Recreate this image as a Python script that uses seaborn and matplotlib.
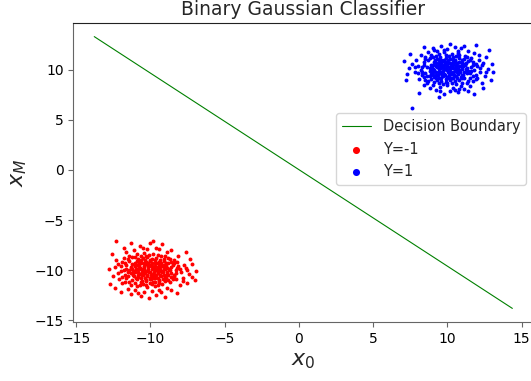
import numpy as np
import matplotlib
matplotlib.use("Agg")
import matplotlib.pyplot as plt
import seaborn as sns

# decision boundary end points
boundary_x = [-13.77, 14.37]
boundary_y = [13.33, -13.83]

# class Y=1 (blue cloud)
blue_x = [
    9.1, 9.4, 9.7, 9.9, 10.2, 10.5, 10.8, 11.0,
    8.9, 9.2, 9.5, 9.8, 10.0, 10.3, 10.6, 10.9, 11.2,
    8.8, 9.0, 9.3, 9.6, 9.9, 10.1, 10.4, 10.7, 11.0, 11.3,
    8.8, 9.1, 9.4, 9.7, 10.0, 10.2, 10.5, 10.8, 11.1, 11.4,
    8.9, 9.2, 9.5, 9.8, 10.1, 10.4, 10.7, 11.0, 11.3,
    9.1, 9.4, 9.7, 10.0, 10.3, 10.6, 10.9, 11.1,
    9.3, 9.6, 9.9, 10.2, 10.5, 10.8,
    9.3, 9.6, 9.9, 10.2, 10.5, 10.8,
    9.55, 10.15, 10.45, 9.25, 10.85, 9.85, 10.55, 9.45, 10.25, 11.15, 9.05, 10.65, 9.75, 10.35, 9.95,
    9.25, 9.55, 9.85, 10.05, 10.35, 10.65, 10.95, 11.25,
    8.95, 9.35, 9.65, 9.95, 10.25, 10.75, 11.05,
    8.95, 9.45, 9.85, 10.55, 10.95, 11.25,
    9.05, 9.55, 10.05, 10.35, 10.65, 11.25,
    9.05, 9.35, 9.65, 10.45, 11.05,
    9.25, 9.55, 10.15, 10.35, 10.95,
    9.15, 9.75, 10.05, 10.35, 10.95,
    8.5, 8.9, 9.4, 9.8, 10.3, 10.7, 11.2, 11.6, 9.1, 10.0, 10.9, 11.4, 8.7, 10.5, 9.6,
    8.6, 9.0, 9.5, 10.0, 10.4, 10.9, 11.3, 11.7, 9.2, 10.2, 10.7, 11.1, 9.8, 8.8, 11.5,
    8.2, 8.0, 8.3, 8.1, 7.8, 7.6, 7.9, 8.4, 7.4, 7.3, 7.1, 8.5,
    11.8, 12.0, 11.9, 12.2, 12.4, 12.1, 11.7, 12.5, 12.7, 12.9, 13.1, 12.3, 11.9, 12.6,
    8.6, 8.5, 8.7, 11.6, 11.5, 11.4, 8.9, 11.5, 9.0, 11.3, 10.0, 10.1, 8.3, 11.9, 9.7, 10.6, 8.7, 12.2, 9.3, 10.8,
    8.4, 8.6, 8.3, 8.5, 8.8, 9.2, 9.5, 9.9, 10.4, 10.8, 11.1, 11.5, 11.7, 11.6, 11.7, 11.4, 11.0, 10.6, 10.3, 9.9,
    9.4, 9.1, 8.8, 8.4, 8.0, 7.8, 12.0, 12.3, 12.1, 11.8, 8.2, 9.0, 9.8, 10.7, 11.1, 9.5, 10.5, 11.4, 8.4, 12.6,
    7.6, 8.1, 12.8, 11.9, 7.5, 13.0, 9.4, 11.8, 8.4, 10.2, 12.4, 7.2,
]
blue_y = [
    10.8, 10.7, 10.9, 10.8, 10.7, 10.9, 10.8, 10.7,
    10.5, 10.4, 10.6, 10.5, 10.4, 10.6, 10.5, 10.4, 10.5,
    10.2, 10.1, 10.3, 10.2, 10.1, 10.3, 10.2, 10.1, 10.3, 10.2,
    9.9, 10.0, 9.8, 9.9, 10.0, 9.8, 9.9, 10.0, 9.8, 9.9,
    9.6, 9.5, 9.7, 9.6, 9.5, 9.7, 9.6, 9.5, 9.7,
    9.3, 9.2, 9.4, 9.3, 9.2, 9.4, 9.3, 9.2,
    9.0, 8.9, 9.1, 9.0, 8.9, 9.0,
    11.1, 11.0, 11.2, 11.1, 11.0, 11.2,
    10.35, 10.05, 10.75, 9.75, 9.75, 9.45, 10.25, 10.95, 9.55, 10.55, 10.45, 9.15, 10.15, 10.45, 9.15,
    10.65, 10.65, 10.65, 10.65, 10.65, 10.65, 10.65, 10.65,
    10.35, 10.35, 10.35, 10.35, 10.35, 10.35, 10.35,
    10.05, 10.05, 10.05, 10.05, 10.05, 10.05,
    9.75, 9.75, 9.75, 9.75, 9.75, 9.75,
    9.45, 9.45, 9.45, 9.45, 9.45,
    9.15, 9.15, 9.15, 9.15, 9.15,
    10.95, 10.95, 10.95, 10.95, 10.95,
    11.3, 11.5, 11.6, 11.8, 11.6, 11.7, 11.4, 11.2, 12.0, 12.1, 12.2, 11.9, 11.8, 12.3, 12.4,
    8.7, 8.5, 8.3, 8.5, 8.2, 8.4, 8.7, 8.9, 8.0, 7.9, 7.8, 8.1, 7.6, 8.2, 8.4,
    10.0, 10.4, 9.5, 9.1, 9.8, 10.6, 11.0, 10.8, 10.2, 9.6, 10.9, 9.0,
    10.0, 10.4, 9.5, 9.8, 10.7, 11.0, 10.8, 9.4, 10.1, 9.0, 9.8, 8.7, 9.1, 11.3,
    10.3, 9.7, 11.0, 10.3, 9.7, 10.9, 9.1, 9.2, 11.3, 11.3, 8.7, 11.4, 10.3, 10.6, 8.6, 11.4, 8.9, 10.2, 11.9, 8.1,
    10.5, 9.4, 9.8, 11.1, 11.2, 11.4, 11.3, 11.5, 11.3, 11.5, 11.1, 11.0, 10.5, 9.9, 9.4, 8.9, 8.7, 8.6, 8.7, 8.8,
    8.7, 8.8, 9.4, 9.3, 9.7, 10.3, 9.2, 10.5, 11.5, 11.7, 11.5, 12.2, 12.0, 11.9, 12.4, 7.9, 8.0, 7.9, 8.5, 9.8,
    6.2, 7.7, 12.0, 12.5, 11.6, 10.6, 7.3, 7.6, 12.3, 12.6, 8.2, 9.0,
]

# class Y=-1 (red cloud)
red_x = [
    -10.9, -10.6, -10.3, -10.0, -9.7, -9.4, -9.1,
    -11.2, -10.9, -10.6, -10.3, -10.0, -9.7, -9.4, -9.1, -8.8,
    -11.3, -11.0, -10.7, -10.4, -10.1, -9.8, -9.5, -9.2, -8.9, -8.6,
    -11.4, -11.1, -10.8, -10.5, -10.2, -9.9, -9.6, -9.3, -9.0, -8.7,
    -11.3, -11.0, -10.7, -10.4, -10.1, -9.8, -9.5, -9.2, -8.9, -8.6,
    -11.1, -10.8, -10.5, -10.2, -9.9, -9.6, -9.3, -9.0, -8.8,
    -10.9, -10.6, -10.3, -10.0, -9.7, -9.4, -9.1,
    -10.6, -10.3, -10.0, -9.7, -9.4,
    -10.5, -10.2, -9.9, -9.6,
    -10.45, -9.75, -10.15, -9.45, -10.85, -9.15, -10.55, -11.05, -8.95, -9.95, -10.35, -9.65,
    -10.75, -10.45, -9.85, -9.55, -9.25, -8.95,
    -11.05, -10.75, -10.45, -10.15, -9.85, -9.35, -9.05,
    -11.25, -10.95, -10.65, -10.15, -9.65, -9.35, -9.05, -8.75,
    -11.15, -10.85, -10.55, -10.05, -9.75, -9.45, -9.15, -8.85,
    -11.15, -10.55, -10.25, -9.95, -9.35, -9.05,
    -10.95, -10.35, -10.05, -9.75, -9.45, -8.95,
    -10.85, -10.35, -10.05, -9.35,
    -11.8, -11.4, -10.9, -10.4, -9.8, -9.3, -8.8, -8.4, -11.1, -10.2, -9.6, -8.9, -10.7, -9.2, -11.6, -10.0,
    -11.7, -11.3, -10.9, -10.2, -9.7, -9.2, -8.7, -8.3, -11.0, -10.4, -9.9, -9.4, -10.6, -9.6, -11.5, -8.9, -10.1,
    -11.8, -12.0, -11.7, -12.2, -12.4, -11.9, -12.1, -12.5, -11.6, -12.3, -11.6, -12.3,
    -8.3, -8.1, -8.4, -7.9, -7.6, -7.8, -8.2, -7.4, -7.2, -6.9, -7.5, -8.0, -7.3, -8.5, -8.4,
    -11.5, -11.4, -8.6, -8.5, -11.2, -10.8, -9.1, -9.5, -10.5, -11.9, -8.0, -10.3, -9.9, -11.0, -8.8,
    -11.6, -11.7, -11.5, -11.4, -11.0, -10.7, -10.3, -9.8, -9.4, -9.0, -8.6, -8.3, -8.2, -8.4, -8.7, -9.0, -9.5, -10.1, -10.6, -11.2,
    -11.5, -12.0, -11.9, -12.2, -7.7, -7.5, -7.8, -8.1, -10.8, -9.3, -11.3, -8.6, -10.5, -9.4, -11.8, -8.6, -12.4, -7.2, -12.8, -9.8,
    -12.6, -12.0, -8.2, -7.6, -11.3, -9.0, -12.7, -7.0,
]
red_y = [
    -9.1, -9.0, -9.2, -9.1, -9.0, -9.2, -9.1,
    -9.4, -9.5, -9.3, -9.4, -9.5, -9.3, -9.4, -9.5, -9.3,
    -9.7, -9.6, -9.8, -9.7, -9.6, -9.8, -9.7, -9.6, -9.8, -9.7,
    -10.0, -10.1, -9.9, -10.0, -10.1, -9.9, -10.0, -10.1, -9.9, -10.0,
    -10.3, -10.2, -10.4, -10.3, -10.2, -10.4, -10.3, -10.2, -10.4, -10.3,
    -10.6, -10.7, -10.5, -10.6, -10.7, -10.5, -10.6, -10.7, -10.5,
    -10.9, -10.8, -11.0, -10.9, -10.8, -11.0, -10.9,
    -11.2, -11.1, -11.3, -11.2, -11.1,
    -8.8, -8.7, -8.9, -8.8,
    -9.85, -10.45, -9.25, -9.85, -10.45, -10.85, -11.05, -9.25, -9.55, -10.85, -10.15, -9.55,
    -9.25, -9.25, -9.25, -9.25, -9.25, -9.25,
    -9.55, -9.55, -9.55, -9.55, -9.55, -9.55, -9.55,
    -9.85, -9.85, -9.85, -9.85, -9.85, -9.85, -9.85, -9.85,
    -10.15, -10.15, -10.15, -10.15, -10.15, -10.15, -10.15, -10.15,
    -10.45, -10.45, -10.45, -10.45, -10.45, -10.45,
    -10.75, -10.75, -10.75, -10.75, -10.75, -10.75,
    -8.95, -8.95, -8.95, -8.95,
    -8.8, -8.6, -8.4, -8.3, -8.4, -8.6, -8.8, -9.0, -8.0, -7.9, -7.8, -8.2, -7.6, -7.4, -8.2, -7.3,
    -11.2, -11.5, -11.6, -11.7, -11.6, -11.4, -11.2, -10.9, -12.0, -12.2, -12.1, -12.0, -12.6, -12.5, -11.9, -11.8, -12.8,
    -10.0, -9.6, -10.5, -10.3, -9.7, -9.2, -10.9, -10.6, -9.5, -9.0, -10.8, -7.1,
    -10.0, -9.6, -10.5, -10.2, -9.8, -10.8, -9.2, -10.4, -9.4, -10.1, -11.3, -11.5, -8.9, -9.5, -10.6,
    -10.2, -9.1, -9.2, -10.9, -11.0, -8.9, -8.9, -11.5, -11.4, -10.7, -9.9, -8.6, -11.4, -8.7, -11.0,
    -9.9, -9.3, -10.6, -11.2, -11.3, -11.5, -11.5, -11.2, -11.3, -11.1, -10.7, -10.3, -9.8, -9.3, -8.9, -8.6, -8.5, -8.5, -8.6, -8.7,
    -8.9, -10.1, -11.3, -9.4, -9.5, -10.0, -11.1, -8.6, -12.3, -12.2, -12.4, -12.0, -7.8, -7.9, -7.8, -8.0, -11.8, -10.7, -9.9, -7.1,
    -8.4, -12.2, -12.3, -8.2, -7.3, -12.7, -11.4, -11.0,
]

sns.set_style("ticks")

fig = plt.figure(figsize=(5.31, 3.81), dpi=100)
ax = fig.add_axes([73.3 / 531, 59 / 381, 460 / 531, 299 / 381])

sns.lineplot(x=boundary_x, y=boundary_y, ax=ax, color="green", linewidth=0.8,
             label="Decision Boundary")
sns.scatterplot(x=red_x, y=red_y, ax=ax, color="red", s=8, linewidth=0,
                label="Y=-1")
sns.scatterplot(x=blue_x, y=blue_y, ax=ax, color="blue", s=8, linewidth=0,
                label="Y=1")

ax.set_xlim(-15.18, 15.78)
ax.set_ylim(-15.19, 14.69)
ax.set_xticks([-15, -10, -5, 0, 5, 10, 15])
ax.set_yticks([-15, -10, -5, 0, 5, 10])

ax.set_title("Binary Gaussian Classifier", fontsize=13.5)
ax.set_xlabel("$x_0$", fontsize=16)
ax.set_ylabel("$x_M$", fontsize=16)

for side in ["left", "bottom"]:
    ax.spines[side].set_color("#666666")
for side in ["top", "right"]:
    ax.spines[side].set_visible(True)
    ax.spines[side].set_color("#222222")
ax.tick_params(colors="#666666", labelcolor="black", labelsize=10)

ax.legend(loc="upper right", bbox_to_anchor=(1, 0.722), markerscale=1.8,
          fontsize=10.5, frameon=True)

fig.savefig("out.png", dpi=100)
